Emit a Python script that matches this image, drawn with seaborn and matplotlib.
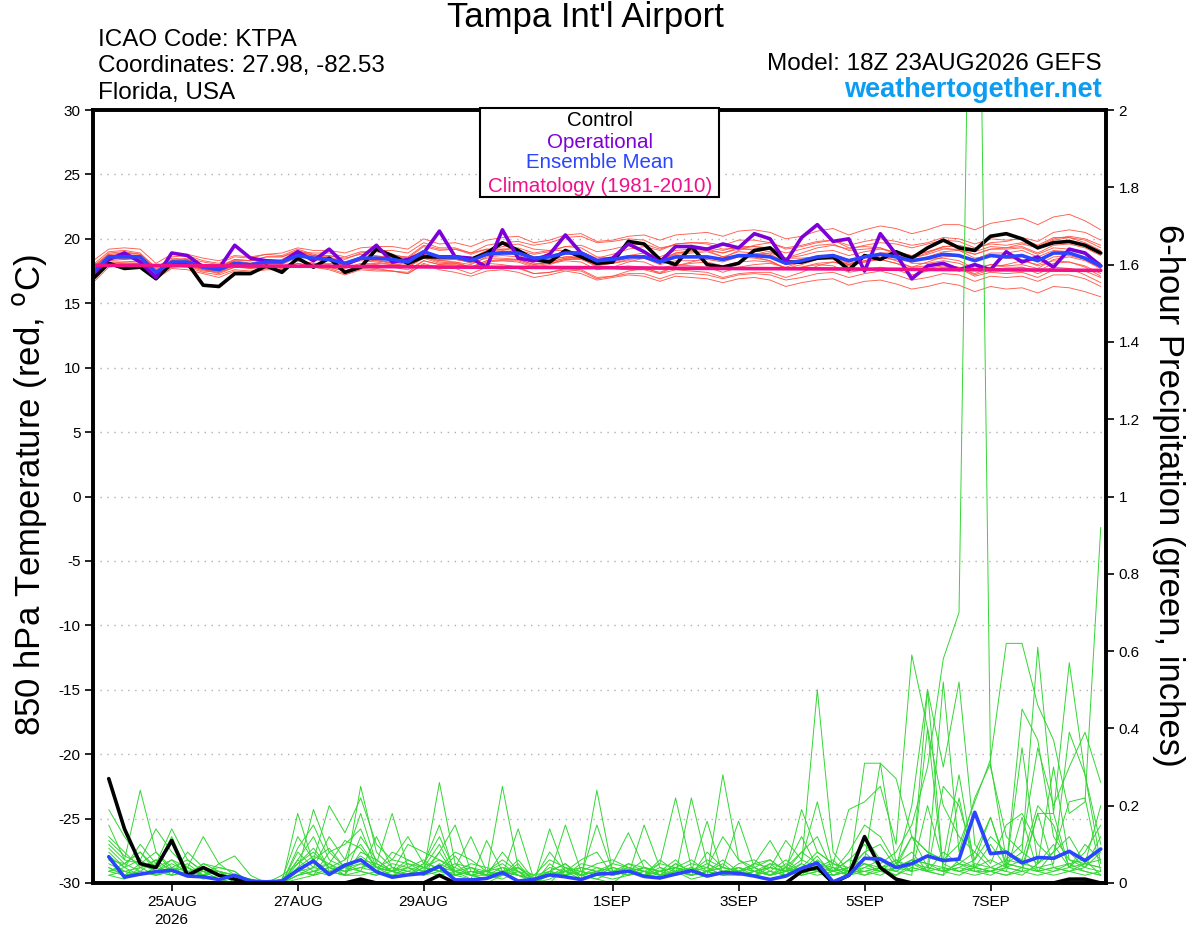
import numpy as np
import pandas as pd
import seaborn as sns
import matplotlib
matplotlib.use("Agg")
import matplotlib.pyplot as plt
import matplotlib.dates as mdates
from matplotlib.patches import Rectangle

# GEFS run 18Z 23AUG2026, 6-hourly out to 384 h
run_start = "2026-08-23 18:00"
n_steps = 65

# 850 hPa temperature (deg C), one value per 6 h step
control_temp = [16.9, 18.1, 17.7, 17.8, 16.9, 18.1, 18.1, 16.4, 16.3, 17.3, 17.3, 17.9, 17.4, 18.5, 17.8, 18.5, 17.4,
                17.8, 19.2, 18.7, 18.1, 18.6, 18.6, 18.6, 18.4, 18.9, 19.7, 19.1, 18.4, 18.2, 19.1, 18.6, 18.1,
                18.2, 19.8, 19.6, 18.4, 18.0, 19.4, 18.0, 17.8, 18.1, 19.1, 19.3, 18.2, 18.2, 18.5, 18.6, 17.6,
                18.7, 18.4, 19.0, 18.5, 19.3, 19.9, 19.3, 19.1, 20.2, 20.4, 20.0, 19.3, 19.7, 19.8, 19.5, 18.9]
oper_temp = [17.3, 18.4, 18.9, 18.2, 17.0, 18.9, 18.7, 17.8, 17.7, 19.5, 18.5, 18.3, 18.2, 19.0, 18.3, 19.2, 18.0,
             18.5, 19.5, 18.2, 18.4, 18.9, 20.6, 18.6, 18.5, 17.8, 20.7, 18.5, 18.3, 18.8, 20.3, 18.9, 18.3,
             18.5, 19.6, 19.0, 18.2, 19.4, 19.4, 19.2, 19.6, 19.3, 20.4, 20.0, 18.2, 20.1, 21.1, 19.8, 20.0,
             17.5, 20.4, 18.8, 16.9, 17.9, 18.1, 17.6, 18.0, 17.6, 19.0, 18.2, 18.6, 17.8, 19.2, 18.9, 17.9]
mean_temp = [17.4, 18.6, 18.6, 18.6, 17.4, 18.2, 18.2, 17.8, 17.6, 18.1, 18.0, 18.2, 18.2, 18.7, 18.5, 18.4, 18.1,
             18.5, 18.5, 18.4, 18.2, 19.0, 18.6, 18.6, 18.3, 18.8, 18.9, 18.9, 18.5, 18.6, 18.9, 18.9, 18.3,
             18.4, 18.6, 18.6, 18.2, 18.6, 18.6, 18.6, 18.4, 18.7, 18.7, 18.6, 18.1, 18.3, 18.6, 18.7, 18.3,
             18.6, 18.8, 18.6, 18.3, 18.5, 18.8, 18.7, 18.3, 18.7, 18.6, 18.7, 18.3, 18.9, 18.9, 18.5, 17.9]
# climatology, one value per day (every 4th step)
clim_temp = [17.95, 17.93, 17.9, 17.88, 17.86, 17.83, 17.8, 17.78, 17.76,
             17.73, 17.7, 17.68, 17.66, 17.63, 17.6, 17.58, 17.55]

# ensemble members, tenths of a degree
temp_members = [
    [177, 189, 190, 188, 178, 185, 184, 180, 177, 180, 178, 180, 179, 183, 180, 178, 175, 178, 177, 175, 173, 180, 176, 174, 171,
     175, 176, 174, 170, 172, 175, 173, 168, 170, 172, 171, 167, 171, 170, 169, 166, 169, 170, 168, 163, 166, 168, 169, 164,
     167, 168, 165, 161, 163, 166, 164, 159, 163, 161, 162, 158, 163, 162, 159, 155],
    [180, 190, 191, 189, 177, 186, 187, 183, 181, 186, 185, 188, 189, 193, 191, 191, 189, 193, 194, 194, 192, 200, 196, 197, 194,
     199, 201, 202, 197, 199, 203, 204, 198, 199, 202, 203, 199, 203, 204, 205, 202, 206, 207, 205, 200, 202, 206, 208, 203,
     207, 210, 208, 204, 207, 211, 211, 207, 212, 214, 216, 211, 217, 219, 214, 207],
    [172, 184, 185, 184, 173, 183, 184, 179, 178, 183, 181, 184, 183, 189, 184, 183, 179, 184, 186, 183, 181, 188, 184, 187, 185,
     191, 190, 187, 183, 184, 186, 187, 180, 182, 185, 187, 183, 188, 189, 190, 186, 190, 189, 187, 180, 181, 184, 184, 180,
     182, 184, 181, 178, 182, 186, 187, 184, 189, 189, 191, 186, 191, 190, 184, 177],
    [168, 180, 181, 181, 169, 177, 176, 173, 170, 175, 174, 176, 176, 181, 179, 178, 175, 180, 181, 180, 179, 187, 184, 184, 182,
     188, 190, 191, 188, 190, 194, 195, 190, 192, 195, 196, 192, 196, 197, 197, 195, 199, 199, 197, 192, 194, 197, 199, 195,
     198, 200, 198, 195, 197, 201, 200, 196, 200, 199, 200, 195, 201, 201, 197, 191],
    [171, 182, 182, 183, 172, 179, 178, 174, 172, 176, 175, 177, 176, 181, 178, 177, 173, 177, 176, 175, 173, 181, 177, 177, 173,
     178, 178, 177, 173, 174, 177, 176, 170, 171, 173, 173, 169, 173, 173, 172, 169, 172, 173, 172, 168, 170, 173, 174, 170,
     173, 175, 172, 168, 170, 173, 172, 167, 171, 170, 171, 167, 172, 172, 169, 163],
    [178, 187, 187, 187, 175, 181, 181, 177, 177, 184, 183, 186, 186, 191, 187, 185, 180, 183, 182, 180, 178, 186, 183, 184, 182,
     190, 194, 196, 192, 191, 191, 188, 179, 177, 176, 176, 173, 179, 182, 185, 185, 191, 195, 197, 193, 195, 198, 199, 193,
     194, 193, 188, 181, 181, 183, 181, 176, 180, 179, 180, 177, 184, 186, 183, 177],
    [183, 192, 193, 192, 181, 188, 188, 185, 183, 187, 186, 188, 187, 192, 188, 186, 182, 185, 184, 181, 179, 186, 182, 181, 178,
     183, 184, 184, 180, 182, 185, 186, 181, 183, 186, 187, 184, 189, 190, 191, 189, 193, 194, 193, 189, 192, 195, 196, 191,
     192, 193, 189, 184, 184, 185, 183, 177, 180, 178, 178, 173, 178, 177, 172, 166],
    [175, 185, 184, 185, 173, 181, 180, 176, 173, 178, 178, 181, 182, 188, 187, 187, 184, 189, 191, 191, 189, 197, 193, 193, 189,
     192, 191, 189, 184, 184, 186, 185, 178, 178, 179, 178, 173, 176, 175, 174, 170, 173, 174, 174, 170, 174, 179, 182, 180,
     185, 189, 189, 187, 190, 194, 194, 190, 194, 193, 194, 189, 195, 196, 193, 187],
    [173, 187, 188, 187, 175, 182, 181, 176, 175, 180, 178, 179, 178, 183, 181, 181, 179, 184, 185, 186, 185, 194, 191, 192, 189,
     195, 197, 198, 195, 197, 201, 202, 197, 198, 200, 199, 193, 195, 193, 191, 186, 187, 186, 183, 177, 178, 181, 182, 179,
     182, 185, 184, 182, 186, 190, 191, 188, 192, 192, 193, 188, 193, 192, 188, 181],
    [170, 183, 184, 185, 173, 180, 181, 177, 175, 179, 177, 178, 177, 181, 178, 176, 172, 176, 175, 175, 174, 183, 180, 182, 180,
     186, 187, 186, 181, 181, 183, 182, 176, 178, 182, 185, 183, 189, 191, 193, 191, 194, 194, 192, 185, 185, 186, 186, 181,
     183, 184, 181, 176, 177, 179, 177, 171, 174, 173, 174, 170, 176, 177, 175, 170],
    [176, 186, 185, 185, 172, 181, 183, 180, 179, 184, 183, 184, 183, 187, 184, 183, 180, 185, 186, 187, 186, 195, 192, 192, 188,
     192, 192, 191, 186, 187, 190, 190, 185, 188, 192, 194, 191, 196, 197, 196, 192, 193, 191, 188, 182, 183, 185, 185, 180,
     183, 187, 187, 185, 189, 194, 195, 192, 197, 198, 201, 198, 205, 207, 205, 199],
    [169, 181, 182, 182, 171, 179, 179, 175, 174, 180, 180, 183, 183, 188, 185, 184, 181, 184, 183, 181, 178, 185, 181, 181, 178,
     183, 183, 182, 178, 180, 184, 185, 180, 181, 183, 182, 177, 180, 179, 178, 174, 178, 180, 181, 178, 182, 186, 188, 184,
     186, 187, 183, 178, 179, 180, 178, 172, 176, 176, 178, 175, 181, 182, 179, 173],
    [179, 188, 186, 184, 174, 183, 185, 182, 180, 182, 180, 181, 180, 186, 186, 187, 185, 188, 187, 185, 182, 188, 185, 186, 184,
     190, 192, 193, 189, 191, 194, 193, 186, 185, 186, 185, 180, 183, 183, 184, 182, 186, 188, 189, 185, 189, 193, 195, 192,
     195, 197, 196, 193, 196, 199, 198, 193, 196, 195, 197, 194, 200, 202, 200, 195],
    [166, 178, 180, 181, 170, 178, 179, 176, 174, 178, 177, 179, 178, 183, 181, 180, 177, 181, 180, 178, 176, 183, 180, 180, 177,
     182, 183, 183, 179, 181, 184, 184, 179, 181, 184, 185, 181, 185, 186, 186, 183, 186, 185, 183, 177, 178, 180, 179, 174,
     176, 178, 176, 172, 175, 178, 177, 173, 178, 180, 183, 180, 186, 187, 184, 178],
    [177, 188, 189, 188, 176, 184, 183, 178, 176, 181, 180, 183, 184, 190, 189, 189, 186, 190, 190, 188, 185, 191, 186, 185, 181,
     185, 185, 184, 180, 182, 185, 185, 180, 183, 187, 189, 186, 191, 192, 192, 189, 192, 192, 190, 185, 187, 190, 191, 187,
     190, 192, 190, 187, 190, 193, 191, 185, 187, 185, 184, 179, 183, 182, 178, 171],
    [174, 185, 186, 186, 175, 182, 182, 178, 177, 183, 183, 186, 186, 190, 187, 185, 181, 184, 183, 182, 180, 187, 183, 182, 178,
     181, 180, 178, 173, 174, 176, 175, 169, 171, 175, 177, 174, 179, 181, 182, 179, 182, 183, 182, 177, 180, 184, 186, 182,
     186, 189, 188, 185, 188, 192, 192, 188, 192, 193, 196, 193, 199, 201, 199, 193],
]

# 6-hour precipitation from step 1 onward
control_precip = [27, 14, 5, 4, 11, 2, 4, 2, 1, 0, 0, 0, 0, 0, 0, 0,
                  1, 0, 0, 0, 0, 2, 0, 0, 0, 0, 0, 0, 0, 0, 0, 0,
                  0, 0, 0, 0, 0, 0, 0, 0, 0, 0, 0, 0, 3, 4, 0, 2,
                  12, 4, 1, 0, 0, 0, 0, 0, 0, 0, 0, 0, 0, 1, 1, 0]  # hundredths of an inch
mean_precip = [68, 15, 23, 29, 33, 18, 16, 9, 20, 5, 3, 5, 33, 57, 22, 46,
               60, 29, 15, 21, 25, 43, 8, 8, 12, 27, 5, 9, 21, 16, 9, 23,
               25, 31, 17, 13, 23, 32, 18, 27, 25, 18, 9, 18, 38, 52, 3, 20,
               64, 62, 40, 50, 70, 58, 62, 183, 76, 80, 52, 66, 64, 82, 58, 88]  # thousandths of an inch
precip_members = [  # hundredths of an inch
    [5, 3, 2, 4, 6, 2, 3, 1, 0, 0, 0, 2, 5, 8, 4, 6, 10, 4, 2, 3, 5, 12, 3, 1, 0, 2, 5, 0, 1, 3, 2, 4,
     2, 5, 3, 1, 4, 2, 3, 6, 3, 2, 5, 4, 8, 12, 3, 6, 10, 5, 8, 15, 30, 58, 70, 340, 30, 12, 8, 5, 10, 4, 8, 15],
    [10, 6, 24, 8, 4, 3, 2, 5, 2, 0, 0, 0, 18, 5, 3, 2, 25, 8, 4, 2, 3, 26, 5, 2, 1, 3, 2, 1, 0, 4, 2, 1,
     0, 3, 2, 6, 3, 1, 2, 28, 6, 4, 2, 3, 5, 50, 8, 3, 12, 6, 4, 20, 50, 30, 52, 10, 5, 15, 18, 10, 6, 8, 4, 12],
    [19, 12, 6, 14, 8, 4, 12, 5, 7, 2, 0, 0, 3, 19, 8, 4, 6, 5, 18, 4, 2, 8, 15, 3, 2, 25, 4, 1, 3, 5, 1, 24,
     3, 2, 15, 4, 2, 22, 5, 3, 2, 3, 4, 11, 6, 21, 4, 2, 31, 31, 27, 12, 8, 6, 10, 21, 32, 62, 62, 46, 37, 18, 21, 92],
    [8, 4, 10, 5, 14, 6, 3, 2, 1, 0, 0, 1, 12, 6, 20, 13, 22, 10, 6, 5, 4, 10, 2, 1, 11, 3, 2, 0, 14, 3, 1, 2,
     5, 13, 4, 3, 6, 2, 8, 4, 16, 4, 6, 3, 19, 8, 5, 19, 21, 25, 10, 59, 40, 20, 12, 8, 17, 5, 8, 61, 18, 57, 28, 10],
    [3, 2, 5, 3, 2, 8, 4, 2, 1, 0, 0, 0, 6, 3, 5, 2, 8, 6, 3, 10, 8, 6, 4, 2, 3, 5, 2, 1, 2, 15, 3, 2,
     1, 2, 3, 5, 22, 4, 2, 3, 2, 5, 11, 4, 2, 6, 3, 4, 6, 31, 5, 12, 4, 52, 8, 22, 31, 6, 10, 35, 20, 30, 39, 26],
    [12, 8, 4, 6, 3, 2, 5, 4, 3, 0, 0, 0, 9, 15, 6, 4, 5, 3, 8, 6, 4, 3, 2, 4, 2, 8, 3, 2, 6, 4, 2, 3,
     4, 3, 6, 2, 3, 5, 4, 2, 5, 6, 3, 2, 5, 3, 4, 2, 4, 6, 3, 2, 50, 3, 5, 8, 4, 3, 2, 5, 8, 21, 22, 3],
    [6, 5, 8, 4, 12, 3, 2, 1, 2, 1, 0, 0, 4, 2, 8, 10, 14, 4, 6, 12, 5, 4, 8, 6, 3, 2, 6, 1, 2, 4, 3, 5,
     6, 4, 2, 3, 4, 6, 3, 2, 3, 4, 2, 5, 3, 7, 2, 3, 2, 4, 3, 6, 5, 3, 4, 6, 17, 4, 3, 18, 4, 5, 6, 2],
    [4, 2, 3, 6, 3, 5, 2, 3, 0, 0, 0, 0, 2, 4, 3, 5, 3, 12, 4, 3, 2, 5, 3, 4, 2, 4, 3, 0, 5, 2, 4, 3,
     2, 4, 3, 2, 5, 3, 16, 2, 4, 2, 3, 6, 3, 4, 5, 3, 8, 4, 6, 3, 20, 5, 3, 4, 3, 5, 4, 18, 18, 4, 5, 6],
    [2, 1, 4, 2, 3, 2, 4, 3, 2, 0, 0, 0, 3, 6, 9, 4, 7, 4, 3, 2, 5, 15, 2, 3, 2, 3, 4, 2, 3, 5, 2, 1,
     3, 2, 4, 3, 2, 4, 3, 5, 2, 3, 4, 3, 8, 5, 3, 6, 5, 3, 6, 4, 3, 8, 5, 4, 6, 4, 45, 37, 12, 6, 4, 8],
    [9, 5, 3, 2, 4, 6, 3, 2, 1, 0, 0, 0, 5, 9, 4, 3, 4, 3, 5, 4, 6, 3, 7, 2, 3, 2, 14, 1, 2, 3, 4, 3,
     2, 3, 4, 2, 3, 4, 2, 3, 4, 3, 5, 2, 3, 4, 6, 2, 3, 4, 2, 5, 3, 2, 6, 4, 3, 4, 35, 5, 30, 6, 5, 4],
    [15, 6, 5, 8, 3, 4, 2, 3, 2, 0, 0, 0, 8, 4, 12, 6, 18, 5, 3, 4, 2, 4, 3, 5, 4, 3, 2, 1, 3, 2, 5, 4,
     3, 5, 4, 3, 2, 3, 4, 2, 3, 5, 4, 3, 6, 4, 3, 2, 5, 3, 4, 6, 3, 4, 3, 5, 4, 6, 5, 4, 5, 39, 28, 5],
    [3, 4, 2, 3, 5, 3, 2, 1, 0, 0, 0, 0, 3, 2, 4, 3, 5, 4, 3, 2, 3, 4, 2, 3, 2, 1, 3, 0, 2, 3, 2, 3,
     2, 3, 2, 4, 3, 2, 3, 4, 3, 2, 4, 3, 2, 3, 2, 4, 3, 2, 4, 3, 40, 3, 5, 3, 2, 4, 3, 2, 3, 5, 3, 2],
    [6, 3, 4, 5, 2, 3, 4, 2, 1, 0, 0, 0, 2, 3, 2, 4, 3, 2, 4, 3, 2, 3, 4, 12, 3, 2, 4, 1, 3, 2, 3, 2,
     4, 3, 2, 3, 4, 2, 3, 2, 3, 4, 2, 3, 4, 3, 2, 3, 4, 3, 2, 4, 3, 2, 22, 3, 3, 2, 4, 3, 2, 3, 2, 3],
    [2, 3, 2, 4, 3, 2, 3, 4, 3, 0, 0, 0, 1, 2, 3, 2, 2, 3, 2, 4, 3, 2, 3, 2, 1, 2, 3, 0, 3, 2, 3, 2,
     3, 2, 3, 2, 3, 2, 3, 2, 2, 3, 2, 3, 2, 3, 2, 3, 5, 4, 3, 5, 4, 3, 4, 3, 4, 3, 17, 3, 4, 3, 4, 3],
    [7, 4, 6, 3, 4, 2, 5, 3, 2, 1, 0, 0, 3, 4, 5, 3, 4, 5, 3, 6, 4, 3, 5, 4, 3, 4, 2, 1, 4, 3, 2, 15,
     3, 4, 2, 3, 4, 3, 5, 3, 4, 3, 2, 4, 3, 5, 4, 3, 3, 4, 5, 3, 4, 3, 2, 4, 3, 5, 4, 3, 4, 3, 5, 4],
    [4, 2, 3, 2, 3, 4, 2, 3, 0, 0, 0, 0, 2, 3, 4, 2, 3, 2, 3, 2, 4, 3, 2, 3, 2, 3, 2, 1, 2, 3, 2, 3,
     2, 3, 4, 2, 3, 2, 3, 4, 3, 2, 3, 2, 3, 2, 3, 4, 2, 3, 4, 6, 5, 4, 3, 2, 3, 2, 3, 4, 3, 4, 3, 2],
    [11, 7, 5, 3, 6, 4, 2, 3, 1, 0, 0, 0, 4, 7, 5, 11, 9, 4, 3, 2, 4, 6, 3, 2, 2, 3, 4, 1, 8, 3, 2, 3,
     5, 4, 3, 2, 5, 3, 4, 12, 6, 3, 2, 4, 12, 4, 3, 8, 15, 12, 5, 8, 3, 25, 20, 6, 12, 8, 6, 3, 8, 12, 5, 20],
    [3, 5, 8, 3, 2, 3, 1, 2, 1, 0, 0, 0, 6, 12, 3, 2, 12, 6, 3, 5, 3, 8, 2, 3, 3, 6, 3, 1, 2, 3, 6, 8,
     2, 3, 2, 5, 4, 3, 6, 4, 3, 5, 6, 3, 4, 8, 5, 4, 8, 10, 4, 12, 8, 6, 28, 4, 10, 4, 6, 20, 15, 4, 10, 6],
]

tick_dates = ["2026-08-25", "2026-08-27", "2026-08-29", "2026-09-01", "2026-09-03", "2026-09-05", "2026-09-07"]
tick_labels = ["25AUG\n2026", "27AUG", "29AUG", "1SEP", "3SEP", "5SEP", "7SEP"]
temp_ticks = [30, 25, 20, 15, 10, 5, 0, -5, -10, -15, -20, -25, -30]
precip_ticks = [0, 0.2, 0.4, 0.6, 0.8, 1, 1.2, 1.4, 1.6, 1.8, 2]

RED = "#ff4c3c"
GREEN = "#33d633"
PURPLE = "#7e00d8"
BLUE = "#2a44ff"
PINK = "#f0108a"

sns.set_theme(style="ticks")
plt.rcParams["font.family"] = ["Liberation Sans", "DejaVu Sans"]
plt.rcParams.update({"text.color": "black", "axes.labelcolor": "black",
                     "xtick.color": "black", "ytick.color": "black"})

times = pd.date_range(run_start, periods=n_steps, freq="6h")

temp_df = pd.DataFrame({
    "time": np.tile(times.values, len(temp_members)),
    "value": np.concatenate(temp_members) / 10.0,
    "member": np.repeat(np.arange(len(temp_members)), n_steps),
})
precip_df = pd.DataFrame({
    "time": np.tile(times.values[1:], len(precip_members)),
    "value": np.concatenate(precip_members) / 100.0,
    "member": np.repeat(np.arange(len(precip_members)), n_steps - 1),
})

fig = plt.figure(figsize=(12, 9.27), dpi=100)
ax = fig.add_axes([93 / 1200, 1 - 883 / 927, 1013 / 1200, 773 / 927])

# dotted grid on the temperature axis
for t in temp_ticks[1:-1]:
    ax.axhline(t, color="#b0b0b0", lw=1.0, ls=(0, (1, 4)), zorder=0)

sns.lineplot(data=temp_df, x="time", y="value", units="member", estimator=None,
             color=RED, lw=0.65, alpha=0.9, ax=ax, legend=False)
sns.lineplot(x=times, y=control_temp, color="black", lw=2.6, ax=ax)
sns.lineplot(x=times, y=oper_temp, color=PURPLE, lw=2.6, ax=ax)
sns.lineplot(x=times, y=mean_temp, color=BLUE, lw=2.6, ax=ax)
sns.lineplot(x=times[::4], y=clim_temp, color=PINK, lw=2.6, ax=ax)

ax2 = ax.twinx()
sns.lineplot(data=precip_df, x="time", y="value", units="member", estimator=None,
             color=GREEN, lw=0.7, ax=ax2, legend=False)
sns.lineplot(x=times[1:], y=np.array(control_precip) / 100.0, color="black", lw=2.6, ax=ax2)
sns.lineplot(x=times[1:], y=np.array(mean_precip) / 1000.0, color=BLUE, lw=2.6, ax=ax2)

ax.set_xlim(times[0], times[-1] + pd.Timedelta(hours=2))
ax.set_ylim(-30, 30)
ax2.set_ylim(0, 2)

ax.set_xticks(mdates.date2num(pd.to_datetime(tick_dates)))
ax.set_xticklabels(tick_labels, fontsize=11, linespacing=1.35)
ax.set_yticks(temp_ticks)
ax.set_yticklabels([str(t) for t in temp_ticks], fontsize=11)
ax2.set_yticks(precip_ticks)
ax2.set_yticklabels([f"{p:g}" for p in precip_ticks], fontsize=11)
for a in (ax, ax2):
    a.set_xlabel("")
    a.set_ylabel("")
    a.tick_params(direction="out", length=6, width=1.2, colors="black", pad=3)
    for s in a.spines.values():
        s.set_color("black")
        s.set_linewidth(2.6)
        s.set_visible(True)

# axis titles and header text
fig.text(30 / 1200, 1 - 495 / 927, "850 hPa Temperature (red, $^\\mathrm{o}$C)",
         rotation=90, ha="center", va="center", fontsize=25)
fig.text(1168 / 1200, 1 - 495 / 927, "6-hour Precipitation (green, inches)",
         rotation=270, ha="center", va="center", fontsize=25)
fig.text(585 / 1200, 1 - 18 / 927, "Tampa Int'l Airport", ha="center", va="center", fontsize=25)
for y, line in zip([40, 66, 93], ["ICAO Code: KTPA", "Coordinates: 27.98, -82.53", "Florida, USA"]):
    fig.text(98 / 1200, 1 - y / 927, line, ha="left", va="center", fontsize=17.5)
fig.text(1102 / 1200, 1 - 64 / 927, "Model: 18Z 23AUG2026 GEFS", ha="right", va="center", fontsize=17.5)
fig.text(1102 / 1200, 1 - 90 / 927, "weathertogether.net", ha="right", va="center",
         fontsize=19.5, fontweight="bold", color="#0c9df2")

# legend box
fig.add_artist(Rectangle((480 / 1200, 1 - 197 / 927), 239 / 1200, 89 / 927, transform=fig.transFigure,
                         facecolor="white", edgecolor="black", lw=1.5, zorder=10))
for y, label, col in zip([121, 142, 163, 186],
                         ["Control", "Operational", "Ensemble Mean", "Climatology (1981-2010)"],
                         ["black", PURPLE, BLUE, PINK]):
    fig.text(600 / 1200, 1 - y / 927, label, ha="center", va="center", fontsize=14.8, color=col, zorder=11)

plt.savefig("out.png", dpi=100)
plt.close()
